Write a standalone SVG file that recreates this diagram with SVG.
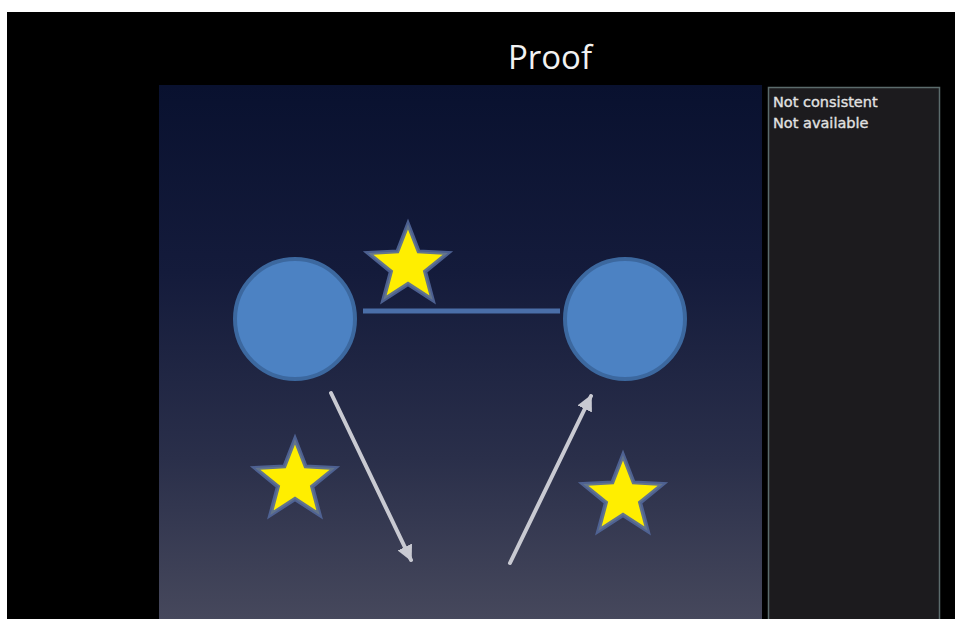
<svg xmlns="http://www.w3.org/2000/svg" width="955" height="619" viewBox="0 0 955 619">
  <defs>
    <linearGradient id="sky" x1="0" y1="0" x2="0" y2="1">
      <stop offset="0" stop-color="#09112f"/>
      <stop offset="0.35" stop-color="#141b3b"/>
      <stop offset="0.7" stop-color="#2a2f4a"/>
      <stop offset="1" stop-color="#46485c"/>
    </linearGradient>
    <marker id="arrowhead" viewBox="0 0 10 10" refX="9" refY="5" markerWidth="4" markerHeight="4" orient="auto" markerUnits="strokeWidth">
      <path d="M0,0 L10,5 L0,10 z" fill="#c9cad2"/>
    </marker>
    <!-- five-pointed star, outer radius 42, inner radius 18 -->
    <polygon id="star" points="0,-42 10.6,-14.6 39.9,-13 17.1,5.6 24.7,34 0,18 -24.7,34 -17.1,5.6 -39.9,-13 -10.6,-14.6"/>
  </defs>
  <style>
    .node-circle { fill: #4c82c3; stroke: #3c689f; stroke-width: 4; }
    .star { fill: #ffee00; stroke: #52679a; stroke-opacity: 0.9; stroke-width: 4; stroke-linejoin: miter; }
    .arrow { stroke: #c9cad2; stroke-width: 4; fill: none; stroke-linecap: round; }
    .edge { stroke: #4a6ea8; stroke-width: 5; }
    .note { font-family: "DejaVu Sans", Verdana, sans-serif; font-size: 14.5px; fill: #e2e2e2; stroke: #e2e2e2; stroke-width: 0.35; }
  </style>

  <!-- page -->
  <rect x="0" y="0" width="955" height="619" fill="#ffffff"/>
  <rect x="7" y="12" width="948" height="607" fill="#000000"/>

  <!-- title -->
  <text x="550" y="69" text-anchor="middle" font-family="'Open Sans', 'Liberation Sans', sans-serif" font-size="33" fill="#f2f2f2">Proof</text>

  <!-- main canvas -->
  <rect id="canvas" x="159" y="85" width="603" height="534" fill="url(#sky)"/>

  <!-- notes panel -->
  <g id="notes">
    <rect x="768.5" y="87.5" width="171" height="535" fill="#1c1b1e" stroke="#5b6b6c" stroke-width="1.5"/>
    <text class="note" x="773" y="107">Not consistent</text>
    <text class="note" x="773" y="128">Not available</text>
  </g>

  <!-- connectors -->
  <g id="connectors">
    <line class="edge" x1="363" y1="311" x2="560" y2="311"/>
    <line class="arrow" x1="331" y1="393" x2="411" y2="560" marker-end="url(#arrowhead)"/>
    <line class="arrow" x1="510" y1="563" x2="591" y2="396" marker-end="url(#arrowhead)"/>
  </g>

  <!-- nodes -->
  <g id="node-left">
    <circle class="node-circle" cx="295" cy="319" r="60"/>
  </g>
  <g id="node-right">
    <circle class="node-circle" cx="625" cy="319" r="60"/>
  </g>

  <!-- stars -->
  <g id="star-top">
    <use href="#star" class="star" x="408" y="266"/>
  </g>
  <g id="star-left">
    <use href="#star" class="star" x="295" y="481"/>
  </g>
  <g id="star-right">
    <use href="#star" class="star" x="623" y="497"/>
  </g>
</svg>
